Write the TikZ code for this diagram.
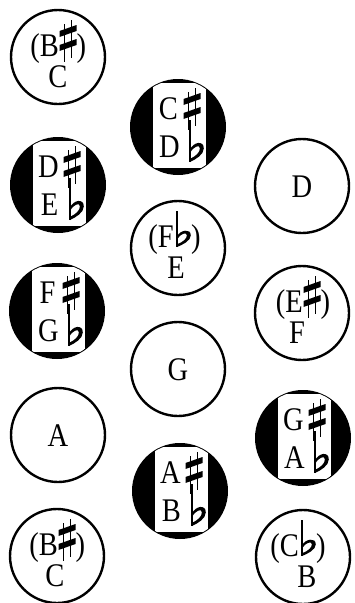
\documentclass[tikz,border=0pt]{standalone}
\usepackage{graphicx}
\usepackage{fontspec}
\setmainfont{Liberation Serif}
\tikzset{
  lt/.style={inner sep=0, font=\fontsize{30}{32}\selectfont},
  wcirc/.style={draw, line width=2.4pt, circle, minimum size=94pt, inner sep=0},
  bcirc/.style={fill=black, circle, minimum size=96pt, inner sep=0},
}
\newcommand\Lt[1]{\scalebox{0.95}[1.1]{#1}}
\newcommand\Sharp[1]{\begin{scope}[shift={#1}]
  \draw[line width=1.5pt] (-3.3,-17) -- (-3.3,21) (3.3,-21) -- (3.3,17);
  \fill (-8.5,-4) -- (8.5,-10) -- (8.5,-16) -- (-8.5,-10) -- cycle;
  \fill (-8.5,10) -- (8.5,4) -- (8.5,-2) -- (-8.5,4) -- cycle;
\end{scope}}
% #1 position of stem bottom, #2 stem length, #3 bowl height
\newcommand\Flat[3]{\begin{scope}[shift={#1}]
  \fill (-0.9,-#2) rectangle (0.9,0);
  \begin{scope}[yscale=#3/20, xscale=1.15]
  \fill (0,-12) .. controls (3,-19) and (12,-21) .. (12,-13)
        .. controls (12,-7) and (5,-2.5) .. (0,0) -- (0,-3)
        .. controls (5,-5.5) and (8.6,-9) .. (8.6,-13)
        .. controls (8.6,-17) and (3,-15) .. (0,-8.5) -- cycle;
  \end{scope}
\end{scope}}
% #1 name, #2 centre, #3 upper letter, #4 lower letter
\newcommand\BlackKey[4]{\begin{scope}[shift={#2}]
  \node[bcirc] (#1) at (0,0) {};
  \begin{scope}
    \clip (0,0) circle[radius=47pt];
    \fill[white] (-25,-44) rectangle (28,41);
  \end{scope}
  \node[lt, anchor=base] (#1a) at (-9.5,-8) {\Lt{#3}};
  \node[lt, anchor=base] (#1b) at (-8.5,30) {\Lt{#4}};
  \Sharp{(14,-18)}
  \Flat{(12,35)}{42}{21}
\end{scope}}
% white key with (X sharp)
\newcommand\WhiteSharp[5]{\begin{scope}[shift={#2}]
  \node[wcirc] (#1) at (0,0) {};
  \node[lt, anchor=base east] (#1a) at (1,-1) {\Lt{(#3}};
  \Sharp{(10,-16)}
  \node[lt, anchor=base west] (#1c) at (18.5,-1) {\Lt{)}};
  \node[lt, anchor=base] (#1b) at (#5,30) {\Lt{#4}};
\end{scope}}
% white key with (X flat)
\newcommand\WhiteFlat[5]{\begin{scope}[shift={#2}]
  \node[wcirc] (#1) at (0,0) {};
  \node[lt, anchor=base east] (#1a) at (-4,-1) {\Lt{(#3}};
  \Flat{(-1,-1)}{36}{18}
  \node[lt, anchor=base west] (#1c) at (13,-1) {\Lt{)}};
  \node[lt, anchor=base] (#1b) at (#5,30) {\Lt{#4}};
\end{scope}}
\newcommand\WhiteKey[3]{\begin{scope}[shift={#2}]
  \node[wcirc] (#1) at (0,0) {};
  \node[lt, anchor=base] (#1a) at (0,11) {\Lt{#3}};
\end{scope}}
\begin{document}
\begin{tikzpicture}[x=1pt,y=-1pt]
  \useasboundingbox (0,0) rectangle (355,603);
  % left column
  \WhiteSharp{l1}{(58,57)}{B}{C}{0}
  \BlackKey{l2}{(58,185)}{D}{E}
  \BlackKey{l3}{(57,311)}{F}{G}
  \WhiteKey{l4}{(58,435)}{A}
  \WhiteSharp{l5}{(57,556)}{B}{C}{-2}
  % middle column
  \BlackKey{m1}{(178,127)}{C}{D}
  \WhiteFlat{m2}{(178,248)}{F}{E}{-2}
  \WhiteKey{m3}{(178,369)}{G}
  \BlackKey{m4}{(180,491)}{A}{B}
  % right column
  \WhiteKey{r1}{(302,186)}{D}
  \WhiteSharp{r2}{(302,313)}{E}{F}{-5}
  \BlackKey{r3}{(303,438)}{G}{A}
  \WhiteFlat{r4}{(303,557)}{C}{B}{4}
\end{tikzpicture}
\end{document}
